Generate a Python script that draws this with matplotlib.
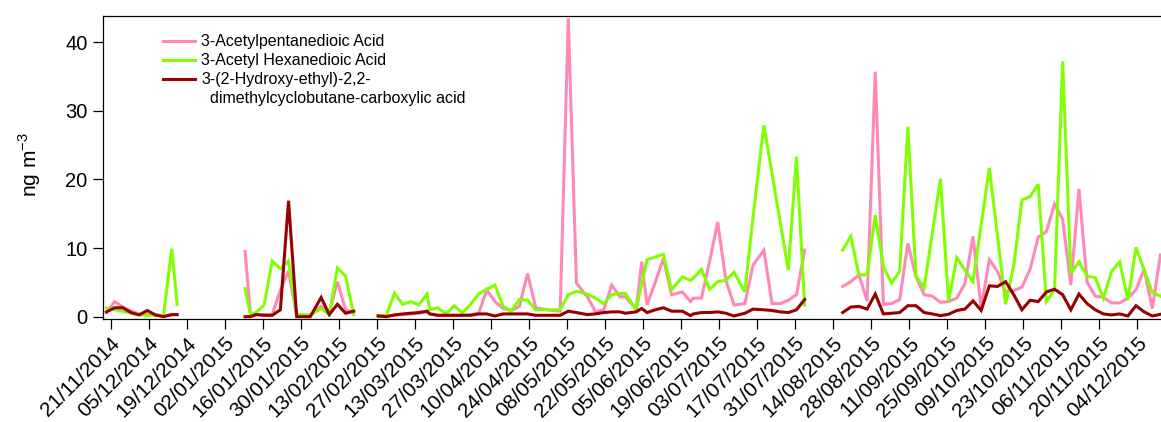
import numpy as np
import pandas as pd
import matplotlib
matplotlib.use("Agg")
import matplotlib.pyplot as plt
import matplotlib.dates as mdates
from matplotlib.lines import Line2D

plt.rcParams["font.family"] = ["Liberation Sans", "DejaVu Sans"]
plt.rcParams["mathtext.fontset"] = "custom"
plt.rcParams["mathtext.rm"] = "Liberation Sans"

# ---- filter sampling dates (24 h samples, plotted at mid-day) ----
sample_dates = [
    # Nov - Dec 2014
    "2014-11-19", "2014-11-22", "2014-11-25", "2014-11-28", "2014-12-01",
    "2014-12-04", "2014-12-07", "2014-12-10", "2014-12-13", "2014-12-15",
    # Jan - Feb 2015
    "2015-01-09", "2015-01-11", "2015-01-13", "2015-01-16", "2015-01-19",
    "2015-01-22", "2015-01-25", "2015-01-28", "2015-01-30", "2015-02-02",
    "2015-02-06", "2015-02-09", "2015-02-12", "2015-02-15", "2015-02-18",
    # Feb - Aug 2015
    "2015-02-27", "2015-03-02", "2015-03-05", "2015-03-08", "2015-03-11",
    "2015-03-14", "2015-03-17", "2015-03-18", "2015-03-21", "2015-03-24",
    "2015-03-27", "2015-03-30", "2015-04-02", "2015-04-05", "2015-04-08",
    "2015-04-11", "2015-04-14", "2015-04-17", "2015-04-20", "2015-04-23",
    "2015-04-26", "2015-04-29", "2015-05-02", "2015-05-05", "2015-05-08",
    "2015-05-11", "2015-05-15", "2015-05-18", "2015-05-21", "2015-05-24",
    "2015-05-27", "2015-05-29", "2015-06-02", "2015-06-04", "2015-06-06",
    "2015-06-09", "2015-06-12", "2015-06-15", "2015-06-19", "2015-06-22",
    "2015-06-23", "2015-06-26", "2015-06-29", "2015-07-02", "2015-07-05",
    "2015-07-08", "2015-07-12", "2015-07-15", "2015-07-19", "2015-07-22",
    "2015-07-25", "2015-07-28", "2015-07-31", "2015-08-03",
    # Aug - Dec 2015
    "2015-08-17", "2015-08-20", "2015-08-23", "2015-08-26", "2015-08-29",
    "2015-09-01", "2015-09-04", "2015-09-07", "2015-09-10", "2015-09-13",
    "2015-09-16", "2015-09-19", "2015-09-22", "2015-09-25", "2015-09-28",
    "2015-10-01", "2015-10-04", "2015-10-07", "2015-10-10", "2015-10-13",
    "2015-10-16", "2015-10-19", "2015-10-22", "2015-10-25", "2015-10-28",
    "2015-10-31", "2015-11-03", "2015-11-06", "2015-11-09", "2015-11-12",
    "2015-11-15", "2015-11-18", "2015-11-21", "2015-11-24", "2015-11-27",
    "2015-11-30", "2015-12-03", "2015-12-06", "2015-12-09", "2015-12-12",
]

# ---- concentrations, ng m-3 ----
acetylpentanedioic = [
    0.6, 2.2, 1.4, 0.8, 0.4, 0.3, 0.3, 0.1, 0.3, 0.3,
    9.5, 0.3, 0.3, 0.3, 0.3, 3.9, 6.6, 0.3, 0.2, 0.2,
    1.5, 0.6, 5.1, 1.0, 0.6,
    0.1, 0.1, 0.2, 0.3, 0.4, 0.5, 0.7, 0.4, 0.2, 0.2,
    0.2, 0.2, 0.3, 0.5, 3.9, 2.2, 1.2, 0.9, 1.5, 6.3,
    1.3, 1.1, 0.9, 0.8, 43.5, 4.9, 2.9, 0.7, 1.0, 4.6,
    2.9, 2.9, 1.1, 8.0, 1.7, 5.0, 8.5, 3.2, 3.6, 2.2,
    2.7, 2.7, 8.0, 13.8, 5.3, 1.7, 1.9, 7.5, 9.7, 1.9,
    1.9, 2.4, 3.2, 9.7,
    4.4, 5.1, 6.1, 2.3, 35.7, 1.8, 1.9, 2.5, 10.7, 5.8,
    3.2, 3.0, 2.1, 2.2, 2.7, 4.8, 11.7, 1.3, 8.3, 6.6,
    3.6, 3.8, 4.3, 6.9, 11.6, 12.4, 16.4, 14.2, 4.6, 18.6,
    5.0, 3.0, 2.8, 2.0, 2.0, 2.7, 3.9, 6.9, 1.2, 9.0,
]
acetylhexanedioic = [
    1.3, 1.0, 0.8, 0.5, 0.3, 0.2, 0.2, 0.2, 9.9, 1.8,
    4.1, 0.3, 0.6, 1.7, 8.1, 7.0, 8.1, 0.3, 0.3, 0.2,
    1.2, 0.3, 7.1, 5.9, 0.3,
    0.1, 0.2, 3.4, 1.8, 2.2, 1.7, 3.3, 1.0, 1.3, 0.4,
    1.6, 0.5, 1.8, 3.3, 4.0, 4.6, 1.5, 0.8, 2.5, 2.4,
    1.0, 1.0, 1.0, 1.0, 3.2, 3.7, 3.3, 2.7, 1.9, 3.2,
    3.4, 3.4, 1.0, 4.8, 8.3, 8.7, 9.1, 3.9, 5.8, 5.3,
    5.6, 6.9, 4.0, 5.1, 5.3, 6.5, 3.6, 14.5, 27.9, 20.9,
    13.8, 6.8, 23.3, 1.7,
    9.7, 11.7, 6.1, 6.1, 14.8, 7.3, 4.9, 6.6, 27.7, 5.9,
    4.2, 12.2, 20.1, 2.2, 8.6, 6.8, 5.1, 13.4, 21.7, 11.8,
    1.8, 7.5, 17.0, 17.5, 19.3, 2.2, 3.9, 37.2, 6.3, 8.0,
    5.9, 5.7, 2.7, 6.6, 8.0, 2.4, 10.1, 6.8, 3.5, 3.0,
]
hydroxyethyl_cbca = [
    0.7, 1.3, 1.3, 0.6, 0.25, 0.9, 0.25, 0.0, 0.3, 0.3,
    0.0, 0.0, 0.3, 0.2, 0.2, 1.0, 16.9, 0.0, 0.0, 0.0,
    2.8, 0.3, 1.8, 0.5, 0.8,
    0.1, 0.0, 0.25, 0.4, 0.5, 0.6, 0.8, 0.4, 0.2, 0.2,
    0.2, 0.2, 0.2, 0.4, 0.4, 0.1, 0.4, 0.4, 0.4, 0.4,
    0.2, 0.2, 0.2, 0.2, 0.8, 0.6, 0.3, 0.4, 0.6, 0.7,
    0.7, 0.5, 0.7, 1.2, 0.6, 1.0, 1.3, 0.8, 0.8, 0.15,
    0.4, 0.6, 0.6, 0.7, 0.5, 0.1, 0.5, 1.1, 1.0, 0.9,
    0.7, 0.6, 1.0, 2.5,
    0.6, 1.4, 1.5, 1.1, 3.3, 0.4, 0.5, 0.6, 1.6, 1.6,
    0.6, 0.4, 0.15, 0.35, 0.9, 1.1, 2.3, 0.9, 4.5, 4.4,
    5.1, 3.2, 1.0, 2.4, 2.2, 3.6, 4.0, 3.2, 1.0, 3.3,
    1.9, 1.0, 0.4, 0.25, 0.4, 0.1, 1.6, 0.7, 0.1, 0.35,
]

series_labels = [
    "3-Acetylpentanedioic Acid",
    "3-Acetyl Hexanedioic Acid",
    "3-(2-Hydroxy-ethyl)-2,2-",
]
label_continuation = "  dimethylcyclobutane-carboxylic acid"
series_colors = ["#FF88B8", "#80FF00", "#990000"]

tick_labels = [
    "21/11/2014", "05/12/2014", "19/12/2014", "02/01/2015", "16/01/2015",
    "30/01/2015", "13/02/2015", "27/02/2015", "13/03/2015", "27/03/2015",
    "10/04/2015", "24/04/2015", "08/05/2015", "22/05/2015", "05/06/2015",
    "19/06/2015", "03/07/2015", "17/07/2015", "31/07/2015", "14/08/2015",
    "28/08/2015", "11/09/2015", "25/09/2015", "09/10/2015", "23/10/2015",
    "06/11/2015", "20/11/2015", "04/12/2015",
]

# ---- build the frame, breaking lines across sampling gaps ----
times = pd.to_datetime(sample_dates) + pd.Timedelta(hours=12)
df = pd.DataFrame(
    {"pent": acetylpentanedioic, "hex": acetylhexanedioic, "cbca": hydroxyethyl_cbca},
    index=times,
)
gaps = times.to_series().diff() > pd.Timedelta(days=6)
breaks = times[gaps.values] - pd.Timedelta(days=1)
df = pd.concat([df, pd.DataFrame(np.nan, index=breaks, columns=df.columns)]).sort_index()
x = mdates.date2num(df.index.to_pydatetime())

fig = plt.figure(figsize=(11.61, 4.22), dpi=100)
ax = fig.add_axes([103 / 1161, 103 / 422, 1 - 103 / 1161, 303 / 422])

handles = []
for col, c in zip(["pent", "hex", "cbca"], series_colors):
    h, = ax.plot(x, df[col].values, color=c, lw=2.2, solid_joinstyle="miter")
    handles.append(h)

tick_pos = mdates.date2num(pd.to_datetime(tick_labels, format="%d/%m/%Y").to_pydatetime())
ax.set_xticks(tick_pos)
ax.set_xticklabels(tick_labels, rotation=45, ha="right", va="top",
                   rotation_mode="anchor", fontsize=15)
ax.set_xlim(tick_pos[0] - 2.8, tick_pos[0] + 386.7)
ax.set_ylim(-0.34, 43.83)
ax.set_yticks([0, 10, 20, 30, 40])
ax.tick_params(axis="y", labelsize=14.5, length=7, width=0.9, pad=4, direction="out")
ax.tick_params(axis="x", length=7.5, width=0.9, pad=3, direction="out")
ax.spines["right"].set_visible(False)
for s in ["left", "bottom", "top"]:
    ax.spines[s].set_linewidth(0.9)

ax.set_ylabel(r"ng m$^{\mathregular{-3}}$", fontsize=15)
ax.yaxis.set_label_coords(-0.057, 0.51)

blank = Line2D([], [], color="none")
ax.legend(handles + [blank], series_labels + [label_continuation],
          loc="upper left", bbox_to_anchor=(0.0567, 0.939), frameon=False,
          fontsize=11.5, handlelength=2.0, handletextpad=0.4,
          labelspacing=0.25, borderpad=0, borderaxespad=0)

fig.savefig("out.png", dpi=100)
